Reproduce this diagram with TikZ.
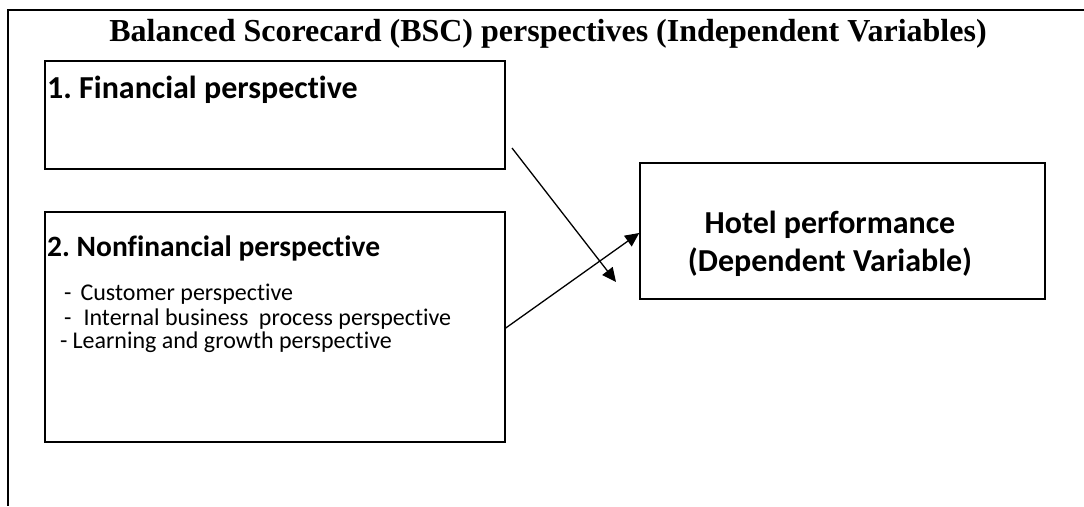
\documentclass[tikz,border=0pt]{standalone}
\usepackage{fontspec}
\setmainfont{Liberation Serif}
\newfontfamily\carl[Ligatures={NoCommon}]{Carlito}
\usetikzlibrary{arrows.meta}
\frenchspacing
\begin{document}
\begin{tikzpicture}[x=1pt,y=-1pt,
  box/.style={draw, line width=1.5pt, inner sep=0pt},
  lbl/.style={inner sep=0pt, anchor=base west, font=\carl\bfseries\fontsize{32}{36}\selectfont},
  hlbl/.style={inner sep=0pt, anchor=base, font=\carl\bfseries\fontsize{32}{36}\selectfont},
  itm/.style={inner sep=0pt, anchor=base west, font=\carl\fontsize{24}{28}\selectfont},
  arr/.style={line width=1.3pt, -{Triangle[length=14pt,width=13pt]}}]
\useasboundingbox (0,0) rectangle (1084,506);
\draw[line width=1.5pt] (1084,10) -- (8,10) -- (8,506);
\node[inner sep=0pt, anchor=base, font=\bfseries\fontsize{32}{36}\selectfont] (title) at (548,41) {Balanced Scorecard (BSC) perspectives (Independent Variables)};
\node[box, minimum width=460pt, minimum height=108pt] (fin) at (275,115) {};
\node[box, minimum width=460pt, minimum height=230pt] (nonfin) at (275,327) {};
\node[box, minimum width=405pt, minimum height=136pt] (hotel) at (842.5,231) {};
\node[lbl] (finl) at (47,98) {1. Financial perspective};
\node[lbl, font=\carl\bfseries\fontsize{29.5}{34}\selectfont] (nonl) at (47,256) {2. Nonfinancial perspective};
\node[itm] (i1) at (64,300) {-\hspace{9pt}Customer perspective};
\node[itm] (i2) at (64,325) {-\hspace{12pt}Internal business\hspace{5pt} process perspective};
\node[itm] (i3) at (60,348) {-\hspace{5pt}Learning and growth perspective};
\node[hlbl] (h1) at (830,233) {Hotel performance};
\node[hlbl] (h2) at (830,271) {(Dependent Variable)};
\coordinate (s1) at (512,148);
\coordinate (e1) at (616,282);
\coordinate (s2) at (nonfin.east |- 0,328);
\coordinate (e2) at (hotel.west |- 0,233);
\draw[arr] (s1) -- (e1);
\draw[arr] (s2) -- (e2);
\end{tikzpicture}
\end{document}
